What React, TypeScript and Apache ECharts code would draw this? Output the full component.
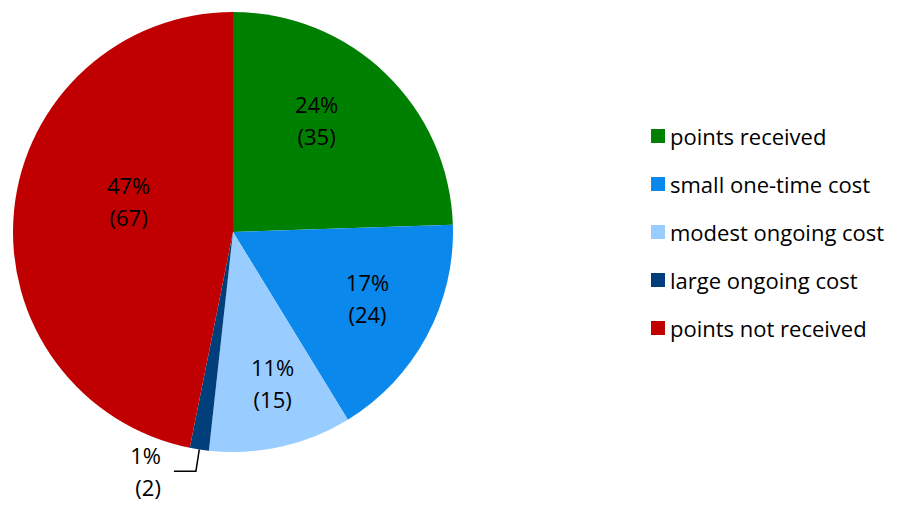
import React, { useEffect, useRef } from "react";
import * as echarts from "echarts";

const categories = [
  "points received",
  "small one-time cost",
  "modest ongoing cost",
  "large ongoing cost",
  "points not received",
];
const counts = [35, 24, 15, 2, 67];
const colors = ["#008000", "#0A88EC", "#99CCFF", "#003F7A", "#C00000"];
// label nudges (px) so the in-slice labels sit where the original puts them
const labelOffsets: [number, number][] = [
  [5, -31],
  [35, 12],
  [15, 41],
  [0, 0],
  [8, -20],
];

const FONT = "'Open Sans', sans-serif";

export default function App() {
  const ref = useRef<HTMLDivElement>(null);
  useEffect(() => {
    document.body.style.margin = "0";
    const chart = echarts.init(ref.current!, null, { renderer: "svg" });
    const data = categories.map((name, i) => {
      const item: any = {
        name,
        value: counts[i],
        itemStyle: { color: colors[i] },
      };
      if (i === 3) {
        item.label = {
          position: "outside",
          align: "right",
          padding: [60, 8, 0, 0],
        };
        item.labelLine = { show: true, length: 22, length2: 22 };
      } else {
        item.label = { position: "inside", offset: labelOffsets[i] };
        item.labelLine = { show: false };
      }
      return item;
    });
    chart.setOption({
      animation: false,
      backgroundColor: "#ffffff",
      textStyle: { fontFamily: FONT },
      legend: {
        orient: "vertical",
        left: 646,
        top: 119,
        itemWidth: 14,
        itemHeight: 14,
        itemGap: 24,
        icon: "rect",
        data: categories,
        textStyle: {
          fontFamily: FONT,
          fontSize: 22,
          lineHeight: 24,
          color: "#000",
        },
      },
      series: [
        {
          type: "pie",
          center: [233, 232],
          radius: 220,
          startAngle: 90,
          clockwise: true,
          percentPrecision: 0,
          avoidLabelOverlap: false,
          data,
          itemStyle: { borderWidth: 0 },
          emphasis: { disabled: true },
          label: {
            show: true,
            formatter: "{d}%\n({c})",
            fontFamily: FONT,
            fontSize: 22,
            lineHeight: 32,
            color: "#000",
          },
          labelLine: {
            lineStyle: { color: "#000", width: 1.5 },
          },
        },
      ],
    });
    return () => chart.dispose();
  }, []);
  return <div ref={ref} style={{ width: 903, height: 510 }} />;
}
